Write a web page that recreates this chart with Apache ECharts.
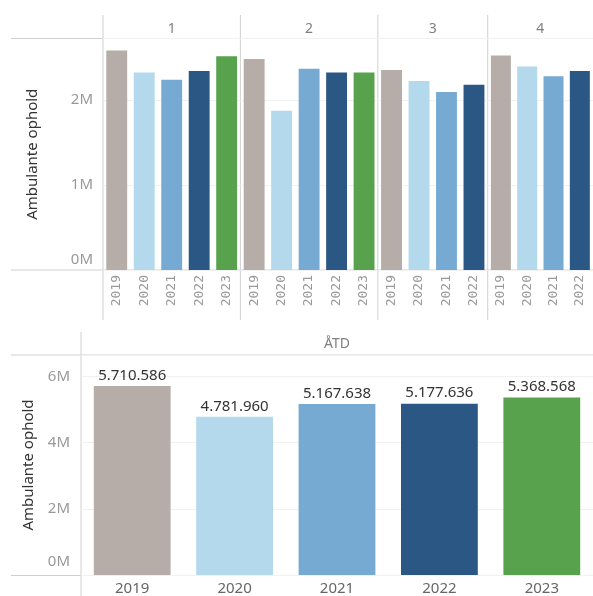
<!DOCTYPE html>
<html><head><meta charset="utf-8">
<script src="https://cdn.jsdelivr.net/npm/echarts@6/dist/echarts.min.js"></script>
<style>html,body{margin:0;padding:0;background:#fff}#c{width:593px;height:596px}</style>
</head><body><div id="c"></div><script>
// ---- data ----
const years = ['2019', '2020', '2021', '2022', '2023'];
const quarters = ['1', '2', '3', '4'];
const q1Values = [2580000, 2320000, 2235000, 2337000, 2510000];
const q2Values = [2478000, 1870000, 2365000, 2320000, 2320000];
const q3Values = [2350000, 2220000, 2090000, 2176000];
const q4Values = [2520000, 2390000, 2275000, 2337000];
const atdLabel = 'ÅTD';
const atdValues = [5710586, 4781960, 5167638, 5177636, 5368568];
const yearColors = ['#b6ada9', '#b4d8ec', '#76aad2', '#2b5784', '#58a24e'];
const axisTitle = 'Ambulante ophold';

// ---- layout ----
const quarterValues = [q1Values, q2Values, q3Values, q4Values];
const FONT = '"Noto Sans", "Open Sans", sans-serif';
const topTop = 38.5, topBottom = 270, L0 = 103, step = 27.48;
const botTop = 355, botBottom = 575.5, botLeft = 81, botRight = 596;
const lineColor = '#d0d0d0';
const gridColor = '#f1f1f1';

function mFmt(v) { return (v / 1e6) + 'M'; }
function dotFmt(v) { return String(v).replace(/\B(?=(\d{3})+(?!\d))/g, '.'); }

const grids = [], xAxes = [], yAxes = [], series = [], graphics = [];
let cum = 0;
const panelEdges = [];
quarterValues.forEach((vals, i) => {
  const n = vals.length;
  const left = L0 + step * cum;
  panelEdges.push(left);
  grids.push({ left: left, width: step * n, top: topTop, height: topBottom - topTop });
  cum += n;
  const cats = years.slice(0, n);
  xAxes.push({
    type: 'category', gridIndex: i, data: cats, position: 'bottom',
    axisLine: { show: false }, axisTick: { show: false },
    axisLabel: { interval: 0, rotate: 90, margin: 5, color: '#9a9a9a', fontSize: 13, fontFamily: '"DejaVu Sans Mono", monospace' }
  });
  xAxes.push({
    type: 'category', gridIndex: i, data: [quarters[i]], position: 'top',
    axisLine: { show: false }, axisTick: { show: false },
    axisLabel: { margin: 2, color: '#808080', fontSize: 14, fontFamily: FONT }
  });
  yAxes.push({
    type: 'value', gridIndex: i, min: 0, max: 2720000, interval: 1000000,
    axisLine: { show: false }, axisTick: { show: false },
    splitLine: { show: true, lineStyle: { color: gridColor } },
    axisLabel: {
      show: i === 0, showMaxLabel: false, margin: 10, color: '#999', fontSize: 15, fontFamily: FONT,
      formatter: v => v === 0 ? '{z|' + mFmt(v) + '}' : mFmt(v),
      rich: { z: { padding: [0, 0, 20, 0], color: '#999', fontSize: 15, fontFamily: FONT } }
    },
    name: i === 0 ? axisTitle : '', nameLocation: 'middle', nameGap: 63,
    nameTextStyle: { color: '#333', fontSize: 15, fontFamily: FONT }
  });
  series.push({
    type: 'bar', xAxisIndex: 2 * i, yAxisIndex: i, barWidth: '76%',
    data: vals.map((v, k) => ({ value: v, itemStyle: { color: yearColors[k] } }))
  });
});
panelEdges.push(L0 + step * cum);

// bottom (ÅTD) chart
grids.push({ left: botLeft, width: botRight - botLeft, top: botTop, height: botBottom - botTop });
xAxes.push({
  type: 'category', gridIndex: 4, data: years, position: 'bottom',
  axisLine: { show: false }, axisTick: { show: false },
  axisLabel: { interval: 0, margin: 6, color: '#666', fontSize: 15, fontFamily: FONT }
});
xAxes.push({
  type: 'category', gridIndex: 4, data: [atdLabel], position: 'top',
  axisLine: { show: false }, axisTick: { show: false },
  axisLabel: { margin: 4, color: '#808080', fontSize: 14, fontFamily: FONT }
});
yAxes.push({
  type: 'value', gridIndex: 4, min: 0, max: 6650000, interval: 2000000,
  axisLine: { show: false }, axisTick: { show: false },
  splitLine: { show: true, lineStyle: { color: gridColor } },
  axisLabel: {
    showMaxLabel: false, margin: 11, color: '#999', fontSize: 15, fontFamily: FONT,
    formatter: v => v === 0 ? '{z|' + mFmt(v) + '}' : mFmt(v),
    rich: { z: { padding: [0, 0, 26, 0], color: '#999', fontSize: 15, fontFamily: FONT } }
  },
  name: axisTitle, nameLocation: 'middle', nameGap: 45,
  nameTextStyle: { color: '#333', fontSize: 15, fontFamily: FONT }
});
series.push({
  type: 'bar', xAxisIndex: 8, yAxisIndex: 4, barWidth: '75%',
  data: atdValues.map((v, k) => ({ value: v, itemStyle: { color: yearColors[k] } })),
  label: { show: true, position: 'top', distance: 3, color: '#333', fontSize: 15, fontFamily: FONT,
    formatter: p => dotFmt(p.value) }
});

// decorative pane lines
function hline(y, x1, x2) { graphics.push({ type: 'line', shape: { x1: x1, y1: y, x2: x2, y2: y }, style: { stroke: lineColor, lineWidth: 1 }, z: 0, silent: true }); }
function vline(x, y1, y2) { graphics.push({ type: 'line', shape: { x1: x, y1: y1, x2: x, y2: y2 }, style: { stroke: lineColor, lineWidth: 1 }, z: 0, silent: true }); }
hline(topTop, 11, 593);
hline(topBottom, 11, 593);
panelEdges.slice(0, 4).forEach(x => vline(x, 15, 320));
hline(botTop, 11, 593);
hline(botBottom, 11, 593);
vline(botLeft, 332, 596);

const chart = echarts.init(document.getElementById('c'));
chart.setOption({
  animation: false,
  backgroundColor: '#fff',
  grid: grids, xAxis: xAxes, yAxis: yAxes, series: series,
  graphic: { elements: graphics }
});
</script></body></html>
